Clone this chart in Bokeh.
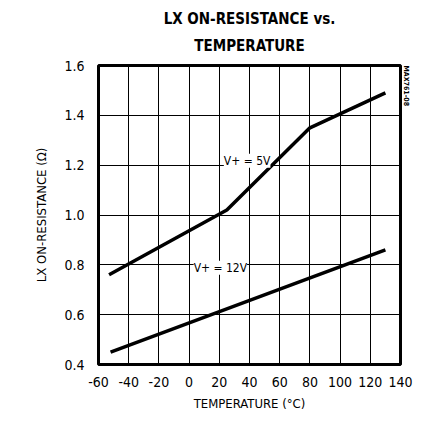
import math
from bokeh.plotting import figure
from bokeh.models import Label, FixedTicker, Range1d, Title, NumeralTickFormatter
from bokeh.embed import file_html
from bokeh.resources import INLINE

x_ticks = [-60, -40, -20, 0, 20, 40, 60, 80, 100, 120, 140]
y_ticks = [0.4, 0.6, 0.8, 1.0, 1.2, 1.4, 1.6]

temp_5v = [-53, 25, 80, 130]
res_5v = [0.76, 1.02, 1.35, 1.49]
temp_12v = [-52, 130]
res_12v = [0.45, 0.86]

FONT = "DejaVu Sans Condensed, Liberation Sans, sans-serif"

p = figure(width=418, height=413, output_backend="svg", toolbar_location=None,
           x_range=Range1d(-60, 140), y_range=Range1d(0.4, 1.6),
           min_border_left=98, min_border_right=18, min_border_top=65, min_border_bottom=48)

p.title = None
t2 = Title(text="TEMPERATURE", align="center", text_font=FONT, text_font_style="bold",
           text_font_size="15px", text_color="black", standoff=21)
t1 = Title(text="LX ON-RESISTANCE vs.", align="center", text_font=FONT, text_font_style="bold",
           text_font_size="15px", text_color="black", standoff=-7)
p.add_layout(t2, "above")
p.add_layout(t1, "above")

code = Title(text="MAX761-08", align="left", text_font=FONT, text_font_style="bold",
             text_font_size="7px", text_color="black", standoff=2)
p.add_layout(code, "right")

p.xaxis.ticker = FixedTicker(ticks=x_ticks)
p.yaxis.ticker = FixedTicker(ticks=y_ticks)
p.xaxis.major_label_overrides = {t: str(t) for t in x_ticks}
p.yaxis.formatter = NumeralTickFormatter(format="0.0")

for ax in [p.xaxis[0], p.yaxis[0]]:
    ax.axis_line_color = None
    ax.major_tick_line_color = None
    ax.minor_tick_line_color = None
    ax.major_label_text_font = FONT
    ax.major_label_text_font_size = "14px"
    ax.major_label_text_color = "black"
    ax.axis_label_text_font = FONT
    ax.axis_label_text_font_size = "13px"
    ax.axis_label_text_font_style = "normal"
    ax.axis_label_text_color = "black"

p.xaxis.axis_label = "TEMPERATURE (°C)"
p.yaxis.axis_label = "LX ON-RESISTANCE (Ω)"
p.xaxis.major_label_standoff = 6
p.yaxis.major_label_standoff = 8
p.yaxis.axis_label_standoff = 12
p.xaxis.axis_label_standoff = 6

p.xgrid.grid_line_color = "black"
p.ygrid.grid_line_color = "black"
p.xgrid.grid_line_width = 1
p.ygrid.grid_line_width = 1
p.xgrid.grid_line_alpha = 1
p.ygrid.grid_line_alpha = 1

p.outline_line_color = "black"
p.outline_line_width = 3
p.outline_line_alpha = 1

p.line(temp_5v, res_5v, line_color="black", line_width=3.5)
p.line(temp_12v, res_12v, line_color="black", line_width=3.5)

p.add_layout(Label(x=23, y=1.19, text="V+ = 5V", text_font=FONT, text_font_size="12px",
                   text_color="black", background_fill_color="white"))
p.add_layout(Label(x=3, y=0.76, text="V+ = 12V", text_font=FONT, text_font_size="12px",
                   text_color="black", background_fill_color="white"))

open("out.html", "w").write(file_html(p, INLINE))
